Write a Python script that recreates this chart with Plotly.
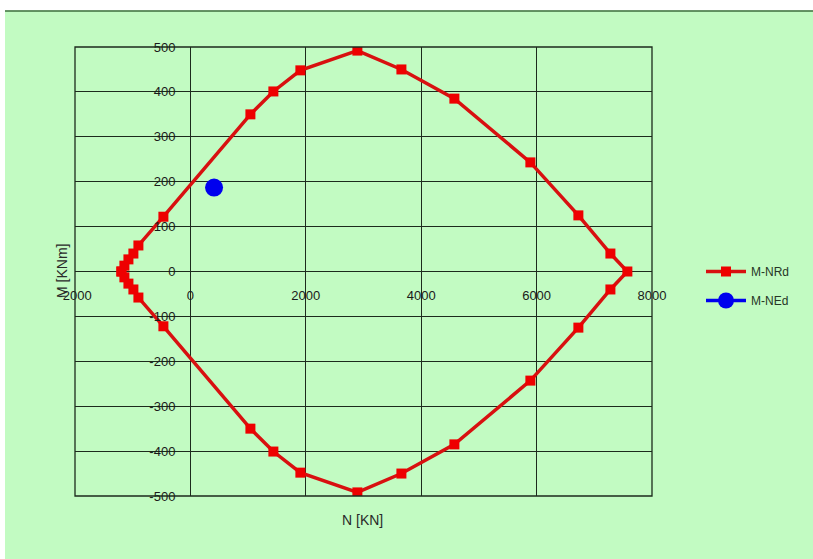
import plotly.graph_objects as go

# M-NRd interaction diagram (closed loop)
n_rd = [-1196, -1144, -1074, -988, -901, -468, 1040, 1438, 1906, 2894, 3657, 4575, 5892, 6724, 7279, 7573,
        7279, 6724, 5892, 4575, 3657, 2894, 1906, 1438, 1040, -468, -901, -988, -1074, -1144, -1196]
m_rd = [0, 13, 27, 40, 58, 122, 350, 401, 448, 492, 450, 385, 243, 125, 40, 0,
        -40, -125, -243, -385, -450, -492, -448, -401, -350, -122, -58, -40, -27, -13, 0]

# Design action point
n_ed = [410]
m_ed = [187]

x_ticks = [-2000, 0, 2000, 4000, 6000, 8000]
y_ticks = [-500, -400, -300, -200, -100, 0, 100, 200, 300, 400, 500]

W, H = 813, 559
L, R, T, B = 75, 652, 47, 496


def px(x):
    return (x - L) / (R - L)


def py(y):
    return (B - y) / (B - T)


GREEN = "#c2fbc2"
GRID = "#1c2a1c"
FONT = "Liberation Sans, Arial, sans-serif"

fig = go.Figure()
fig.add_trace(go.Scatter(
    x=n_rd, y=m_rd, mode="lines+markers", name="M-NRd", legendgroup="a",
    line=dict(color="#d81010", width=3.5),
    marker=dict(symbol="square", size=10, color="#ee0000"),
))
fig.add_trace(go.Scatter(
    x=n_ed, y=m_ed, mode="lines+markers", name="M-NEd", legendgroup="b",
    line=dict(color="#0000ee", width=3.5),
    marker=dict(symbol="circle", size=18, color="#0000ee"),
))

fig.update_layout(
    width=W, height=H,
    margin=dict(l=L, r=W - R, t=T, b=H - B),
    paper_bgcolor=GREEN, plot_bgcolor=GREEN,
    font=dict(family=FONT, size=13, color="#1a1a1a"),
    xaxis=dict(
        range=[-2000, 8000], tickvals=x_ticks, ticktext=[str(v) for v in x_ticks],
        showgrid=True, gridcolor=GRID, gridwidth=1.3,
        zeroline=True, zerolinecolor=GRID, zerolinewidth=1.3,
        showline=False, anchor="free", position=py(271),
        ticks="outside", ticklen=12, tickcolor="rgba(0,0,0,0)",
        tickfont=dict(size=13, color="#1a1a1a"),
    ),
    yaxis=dict(
        range=[-500, 500], tickvals=y_ticks, ticktext=[str(v) for v in y_ticks],
        showgrid=True, gridcolor=GRID, gridwidth=1.3,
        zeroline=True, zerolinecolor=GRID, zerolinewidth=1.3,
        showline=False, anchor="free", position=px(190),
        ticks="outside", ticklen=12, tickcolor="rgba(0,0,0,0)",
        tickfont=dict(size=13, color="#1a1a1a"),
    ),
    legend=dict(
        x=px(701), y=py(286), xanchor="left", yanchor="middle",
        bgcolor="rgba(0,0,0,0)", font=dict(size=12, color="#263626"),
        tracegroupgap=10, itemwidth=40,
    ),
    showlegend=True,
)

shapes = [
    dict(type="rect", xref="paper", yref="paper", x0=0, x1=1, y0=0, y1=1,
         line=dict(color=GRID, width=1.3), layer="above"),
    dict(type="rect", xref="paper", yref="paper", x0=px(0), x1=px(W), y0=py(0), y1=py(10.5),
         fillcolor="white", line=dict(width=0), layer="above"),
    dict(type="rect", xref="paper", yref="paper", x0=px(0), x1=px(5), y0=py(0), y1=py(H),
         fillcolor="white", line=dict(width=0), layer="above"),
    dict(type="line", xref="paper", yref="paper", x0=px(5), x1=px(W), y0=py(11), y1=py(11),
         line=dict(color="#3e6e3e", width=1.5), layer="above"),
]
fig.update_layout(shapes=shapes)

fig.add_annotation(text="M [KNm]", xref="paper", yref="paper", x=px(62), y=py(271),
                   textangle=-90, showarrow=False, font=dict(size=14, color="#2a2a2a"),
                   xanchor="center", yanchor="middle")
fig.add_annotation(text="N [KN]", xref="paper", yref="paper", x=px(362), y=py(520),
                   showarrow=False, font=dict(size=14, color="#2a2a2a"),
                   xanchor="center", yanchor="middle")

fig.write_html(
    "out.html",
    config={"displayModeBar": False},
    post_script="document.body.style.margin='0';document.body.style.padding='0';",
)
